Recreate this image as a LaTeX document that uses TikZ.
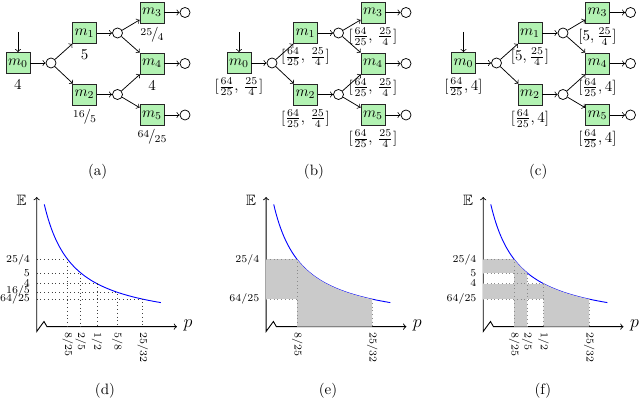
\documentclass[tikz,border=0pt]{standalone}
\usepackage{amssymb}
\definecolor{boxgreen}{RGB}{178,242,178}
\definecolor{shadegray}{RGB}{202,202,202}
\newcommand{\nfr}[2]{\raisebox{0.5ex}{\scriptsize#1}\kern-0.08em/\kern-0.08em\raisebox{-0.3ex}{\scriptsize#2}}
\newcommand{\drawnet}[9]{%
\begin{scope}[shift={(#2,0)}]
\node[mbox] (#1m0) at (0,63) {$m_0$};
\node[junc] (#1c0) at (33,63) {};
\node[mbox] (#1m1) at (66.5,33) {$m_1$};
\node[mbox] (#1m2) at (66.5,94.5) {$m_2$};
\node[junc] (#1c1) at (99.5,33) {};
\node[junc] (#1c2) at (99.5,94.5) {};
\node[mbox] (#1m3) at (134,12.5) {$m_3$};
\node[mbox] (#1m4) at (134,63.5) {$m_4$};
\node[mbox] (#1m5) at (134,115) {$m_5$};
\node[junc] (#1o3) at (167,12.5) {};
\node[junc] (#1o4) at (167,63.5) {};
\node[junc] (#1o5) at (167,115) {};
\coordinate (#1in) at (0,32);
\draw[arr] (#1in) -- (#1m0);
\draw[arr] (#1m0) -- (#1c0);
\draw[arr] (#1c0) -- (#1m1);
\draw[arr] (#1c0) -- (#1m2);
\draw[arr] (#1m1) -- (#1c1);
\draw[arr] (#1m2) -- (#1c2);
\draw[arr] (#1c1) -- (#1m3);
\draw[arr] (#1c1) -- (#1m4);
\draw[arr] (#1c2) -- (#1m4);
\draw[arr] (#1c2) -- (#1m5);
\draw[arr] (#1m3) -- (#1o3);
\draw[arr] (#1m4) -- (#1o4);
\draw[arr] (#1m5) -- (#1o5);
\path (#1m0.center) ++(0,#9) node[netlab] (#1l0) {#3};
\path (#1m1.center) ++(0,#9) node[netlab] (#1l1) {#4};
\path (#1m2.center) ++(0,#9) node[netlab] (#1l2) {#5};
\path (#1m3.center) ++(0,#9) node[netlab] (#1l3) {#6};
\path (#1m4.center) ++(0,#9) node[netlab] (#1l4) {#7};
\path (#1m5.center) ++(0,#9) node[netlab] (#1l5) {#8};
\end{scope}}
\newcommand{\drawaxes}[1]{%
\draw[axisline,<->] (36.7,197) -- (36.7,331.5) -- (44,321.5) -- (47,326.7) -- (177,326.7);
\node (#1E) at (21.7,200.7) {$\mathbb{E}$};
\node (#1p) at (188,325) {\large $p$};
\draw[bluecurve] plot[domain=0.176:0.894,samples=90,variable=\t] ({px(\t)},{ey(2/\t)});}
\begin{document}
\begin{tikzpicture}[x=0.6667pt,y=-0.6667pt,
  declare function={px(\p)=15.7+162.6*\p; ey(\e)=326.7-10.76*\e;},
  mbox/.style={draw=black!85, fill=boxgreen, minimum width=16pt, minimum height=14pt, inner sep=0pt, line width=0.5pt},
  junc/.style={draw, circle, minimum size=6.7pt, inner sep=0pt, fill=white, line width=0.5pt},
  arr/.style={->, line width=0.5pt},
  netlab/.style={inner sep=0pt},
  axisline/.style={line width=0.6pt},
  bluecurve/.style={blue, line width=0.6pt},
  guide/.style={dotted, black!75, line width=0.5pt},
  sguide/.style={dotted, black!45, line width=0.5pt},
  shadefill/.style={fill=shadegray},
  ylab/.style={anchor=east, font=\scriptsize, inner sep=0.5pt},
  xlab/.style={anchor=west, rotate=-90, font=\scriptsize, inner sep=0.5pt},
  captxt/.style={inner sep=0pt}]
\useasboundingbox (0,0) rectangle (640,400);

% ---------- top row ----------
\drawnet{a}{18}{$4$}{$5$}{\nfr{16}{5}}{\nfr{25}{4}}{$4$}{\nfr{64}{25}}{22}
\drawnet{b}{239}{$[\frac{64}{25},\,\frac{25}{4}]$}{$[\frac{64}{25},\,\frac{25}{4}]$}{$[\frac{64}{25},\,\frac{25}{4}]$}{$[\frac{64}{25},\,\frac{25}{4}]$}{$[\frac{64}{25},\,\frac{25}{4}]$}{$[\frac{64}{25},\,\frac{25}{4}]$}{24}
\drawnet{c}{463.5}{$[\frac{64}{25},4]$}{$[5,\frac{25}{4}]$}{$[\frac{64}{25},4]$}{$[5,\frac{25}{4}]$}{$[\frac{64}{25},4]$}{$[\frac{64}{25},4]$}{24}

\node[captxt] (capa) at (97.7,171.7) {(a)};
\node[captxt] (capb) at (314,171.7) {(b)};
\node[captxt] (capc) at (538.3,171.7) {(c)};

% ---------- (d) ----------
\drawaxes{d}
\foreach \pp/\ee in {0.32/6.25,0.4/5,0.5/4,0.625/3.2,0.78125/2.56}
  \draw[guide] (36.7,{ey(\ee)}) -- ({px(\pp)},{ey(\ee)}) -- ({px(\pp)},{ey(0)});
\node[ylab] (dy1) at (31,{ey(6.25)}) {25/4};
\node[ylab] (dy2) at (31,{ey(5)}) {5};
\node[ylab] (dy3) at (31,{ey(4)-1}) {4};
\node[ylab] (dy4) at (31,{ey(3.2)-1}) {16/5};
\node[ylab] (dy5) at (31,{ey(2.56)}) {64/25};
\node[xlab] (dx1) at ({px(0.32)},331.5) {8/25};
\node[xlab] (dx2) at ({px(0.4)},331.5) {2/5};
\node[xlab] (dx3) at ({px(0.5)},331.5) {1/2};
\node[xlab] (dx4) at ({px(0.625)},331.5) {5/8};
\node[xlab] (dx5) at ({px(0.78125)},331.5) {25/32};
\node[captxt] (capd) at (105,391) {(d)};

% ---------- (e) ----------
\begin{scope}[shift={(229.4,0)}]
\drawaxes{e}
\fill[shadefill] (36.7,{ey(6.25)}) rectangle ({px(0.32)},{ey(2.56)});
\fill[shadefill] ({px(0.32)},{ey(0)}) -- plot[domain=0.32:0.78125,samples=60,variable=\t] ({px(\t)},{ey(2/\t)}) -- ({px(0.78125)},{ey(0)}) -- cycle;
\draw[sguide] (36.7,{ey(6.25)}) -- ({px(0.32)},{ey(6.25)}) -- ({px(0.32)},{ey(0)});
\draw[sguide] (36.7,{ey(2.56)}) -- ({px(0.32)},{ey(2.56)});
\draw[sguide] ({px(0.78125)},{ey(2.56)}) -- ({px(0.78125)},{ey(0)});
\node[ylab] (ey1) at (31,{ey(6.25)}) {25/4};
\node[ylab] (ey2) at (31,{ey(2.56)}) {64/25};
\node[xlab] (ex1) at ({px(0.32)},331.5) {8/25};
\node[xlab] (ex2) at ({px(0.78125)},331.5) {25/32};
\end{scope}
\node[captxt] (cape) at (328,391) {(e)};

% ---------- (f) ----------
\begin{scope}[shift={(446.5,0)}]
\drawaxes{f}
\fill[shadefill] (36.7,{ey(6.25)}) rectangle ({px(0.32)},{ey(5)});
\fill[shadefill] (36.7,{ey(4)}) rectangle ({px(0.5)},{ey(2.56)});
\fill[shadefill] ({px(0.32)},{ey(0)}) -- plot[domain=0.32:0.4,samples=20,variable=\t] ({px(\t)},{ey(2/\t)}) -- ({px(0.4)},{ey(0)}) -- cycle;
\fill[shadefill] ({px(0.5)},{ey(0)}) -- plot[domain=0.5:0.78125,samples=50,variable=\t] ({px(\t)},{ey(2/\t)}) -- ({px(0.78125)},{ey(0)}) -- cycle;
\draw[sguide] (36.7,{ey(6.25)}) -- ({px(0.32)},{ey(6.25)}) -- ({px(0.32)},{ey(0)});
\draw[sguide] (36.7,{ey(5)}) -- ({px(0.4)},{ey(5)}) -- ({px(0.4)},{ey(0)});
\draw[sguide] (36.7,{ey(4)}) -- ({px(0.5)},{ey(4)}) -- ({px(0.5)},{ey(0)});
\draw[sguide] (36.7,{ey(2.56)}) -- ({px(0.5)},{ey(2.56)});
\draw[sguide] ({px(0.78125)},{ey(2.56)}) -- ({px(0.78125)},{ey(0)});
\node[ylab] (fy1) at (31,{ey(6.25)}) {25/4};
\node[ylab] (fy2) at (31,{ey(5)}) {5};
\node[ylab] (fy3) at (31,{ey(4)-1}) {4};
\node[ylab] (fy4) at (31,{ey(2.56)}) {64/25};
\node[xlab] (fx1) at ({px(0.32)},331.5) {8/25};
\node[xlab] (fx2) at ({px(0.4)},331.5) {2/5};
\node[xlab] (fx3) at ({px(0.5)},331.5) {1/2};
\node[xlab] (fx4) at ({px(0.78125)},331.5) {25/32};
\end{scope}
\node[captxt] (capf) at (543,391) {(f)};
\end{tikzpicture}
\end{document}
